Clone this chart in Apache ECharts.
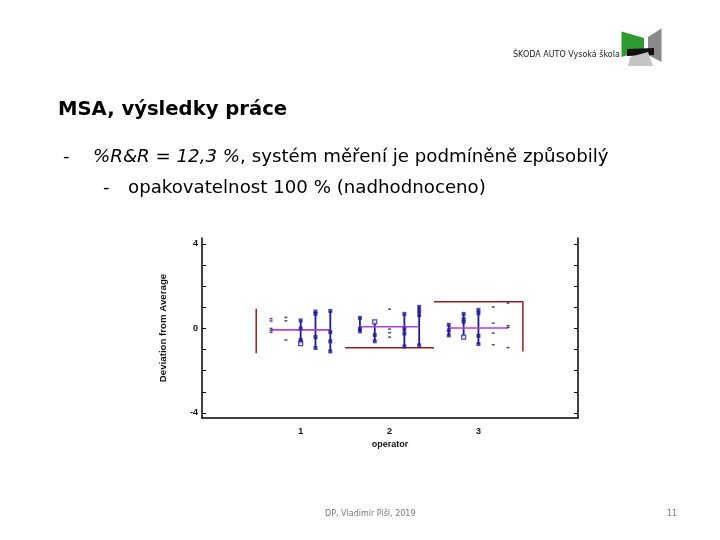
<!DOCTYPE html>
<html>
<head>
<meta charset="utf-8">
<script src="https://cdn.jsdelivr.net/npm/echarts@6/dist/echarts.min.js"></script>
<style>html,body{margin:0;padding:0;background:#fff}#c{width:720px;height:540px}</style>
</head>
<body>
<div id="c"></div>
<script>
// ---- data ----
const operators = [1, 2, 3];
const xTickLabels = [1, 2, 3];
const yTickValues = [-4, -3, -2, -1, 0, 1, 2, 3, 4];
const yTickLabels = [-4, 0, 4];
const partOffsets = [-2/6, -1/6, 0, 1/6, 2/6];
// deviations from average, per operator, per part
const op1Values = [[0.46, 0.35, 0.00, -0.10, -0.19], [0.52, 0.36, -0.55], [0.38, 0.00, -0.54, -0.65, -0.72], [0.80, 0.69, -0.41, -0.93], [0.83, -0.17, -0.61, -1.09]];
const op2Values = [[0.50, -0.02, -0.14], [0.31, -0.31, -0.61], [0.91, -0.03, -0.20, -0.41], [0.69, -0.02, -0.24, -0.85], [1.02, 0.82, 0.63, -0.80]];
const op3Values = [[0.17, -0.09, -0.33], [0.69, 0.44, 0.31, -0.41], [0.88, 0.72, -0.35, -0.74], [1.01, 0.25, -0.22, -0.77], [1.20, 0.13, 0.05, -0.91]];
// which parts (1-based) are drawn joined with a range line
const op1Joined = [3, 4, 5];
const op2Joined = [1, 2, 4, 5];
const op3Joined = [1, 2, 3];
// hollow markers: [operator, part, index]
const hollowMarks = [[1, 3, 4], [2, 2, 0], [3, 2, 3]];
const operatorMeans = [-0.07, 0.08, 0.02];
// limit segments (data space)
const limitLines = [
  [[0.5, 0.93], [0.5, -1.17]],
  [[1.5, -0.91], [2.5, -0.91]],
  [[2.5, 1.26], [3.5, 1.26], [3.5, -1.09]]
];

const allValues = [op1Values, op2Values, op3Values];
const allJoined = [op1Joined, op2Joined, op3Joined];

const NAVY = '#1c1c94';
const rangeData = [], squareData = [], hollowData = [], dashData = [];
operators.forEach((op, i) => {
  allValues[i].forEach((vals, k) => {
    const x = op + partOffsets[k];
    const joined = allJoined[i].includes(k + 1);
    if (joined) {
      rangeData.push([x, Math.min(...vals), Math.max(...vals)]);
      vals.forEach((v, j) => {
        const hollow = hollowMarks.some(h => h[0] === op && h[1] === k + 1 && h[2] === j);
        (hollow ? hollowData : squareData).push([x, v]);
      });
    } else {
      vals.forEach(v => dashData.push([x, v]));
    }
  });
});

const series = [];
limitLines.forEach(seg => {
  series.push({ type: 'line', data: seg, symbol: 'none', silent: true,
    lineStyle: { color: '#9a1c1c', width: 1.5 }, z: 2 });
});
operators.forEach((op, i) => {
  series.push({ type: 'line', data: [[op + partOffsets[0], operatorMeans[i]], [op + partOffsets[4], operatorMeans[i]]],
    symbol: 'none', silent: true, lineStyle: { color: '#b43ed8', width: 1.6 }, z: 4 });
});
series.push({
  type: 'custom', data: rangeData, z: 3,
  renderItem: function (params, api) {
    const p1 = api.coord([api.value(0), api.value(1)]);
    const p2 = api.coord([api.value(0), api.value(2)]);
    return { type: 'line', shape: { x1: p1[0], y1: p1[1], x2: p2[0], y2: p2[1] },
      style: { stroke: NAVY, lineWidth: 1.8 } };
  }
});
series.push({ type: 'scatter', data: squareData, symbol: 'rect', symbolSize: 4, z: 5,
  itemStyle: { color: NAVY } });
series.push({ type: 'scatter', data: hollowData, symbol: 'rect', symbolSize: 4, z: 5,
  itemStyle: { color: '#fff', borderColor: NAVY, borderWidth: 1.2 } });
series.push({ type: 'scatter', data: dashData, symbol: 'rect', symbolSize: [3, 1.5], z: 5,
  itemStyle: { color: '#1e1e60' } });

const axisFont = { fontFamily: 'Liberation Sans', fontWeight: 'bold', fontSize: 9, color: '#111' };
const nameFont = { fontFamily: 'Liberation Sans', fontWeight: 'bold', fontSize: 9.7, color: '#111' };

const chart = echarts.init(document.getElementById('c'));
chart.setOption({
  backgroundColor: '#fff',
  animation: false,
  grid: { left: 202, right: 142, top: 238, bottom: 122 },
  xAxis: {
    type: 'value', min: -0.11, max: 4.12,
    name: 'operator', nameLocation: 'middle', nameGap: 22,
    nameTextStyle: axisFont,
    axisLine: { show: true, onZero: false, lineStyle: { color: '#000', width: 1.5 } },
    axisTick: { show: false },
    splitLine: { show: false },
    axisLabel: Object.assign({ customValues: xTickLabels, margin: 9 }, axisFont)
  },
  yAxis: [{
    type: 'value', min: -4.24, max: 4.28, position: 'left',
    name: 'Deviation from Average', nameLocation: 'middle', nameRotate: 90, nameGap: 34,
    nameTextStyle: nameFont,
    axisLine: { show: true, onZero: false, lineStyle: { color: '#000', width: 1.5 } },
    axisTick: { show: true, inside: true, length: 4, customValues: yTickValues, lineStyle: { color: '#000' } },
    splitLine: { show: false },
    axisLabel: Object.assign({ customValues: yTickLabels, margin: 4 }, axisFont)
  }, {
    type: 'value', min: -4.24, max: 4.28, position: 'right',
    axisLine: { show: true, onZero: false, lineStyle: { color: '#000', width: 1.5 } },
    axisTick: { show: true, inside: true, length: 4, customValues: yTickValues, lineStyle: { color: '#000' } },
    splitLine: { show: false },
    axisLabel: { show: false }
  }],
  series: series,
  graphic: [
    { type: 'text', left: 58, top: 100, style: { text: 'MSA, výsledky práce', font: 'bold 19.6px "DejaVu Sans"', fill: '#000' } },
    { type: 'text', left: 63, top: 148, style: { text: '-', font: '18px "DejaVu Sans"', fill: '#000' } },
    { type: 'text', left: 93, top: 148, style: {
      text: '{i|%R&R = 12,3 %}{n|, systém měření je podmíněně způsobilý}',
      rich: { i: { font: 'italic 18.2px "DejaVu Sans"', fill: '#000' }, n: { font: '18.2px "DejaVu Sans"', fill: '#000' } } } },
    { type: 'text', left: 103, top: 179, style: { text: '-', font: '18px "DejaVu Sans"', fill: '#000' } },
    { type: 'text', left: 128, top: 179, style: { text: 'opakovatelnost 100 % (nadhodnoceno)', font: '18.2px "DejaVu Sans"', fill: '#000' } },
    { type: 'text', left: 325, top: 510, style: { text: 'DP, Vladimír Pišl, 2019', font: '8px "DejaVu Sans"', fill: '#777' } },
    { type: 'text', left: 667, top: 510, style: { text: '11', font: '8px "DejaVu Sans"', fill: '#777' } },
    { type: 'text', left: 513, top: 51, style: { text: 'ŠKODA AUTO Vysoká škola', font: '8px "DejaVu Sans"', fill: '#222' } },
    { type: 'polygon', shape: { points: [[621.5, 31.5], [644, 38], [644, 50], [621.5, 57]] }, style: { fill: '#2f9a2f' } },
    { type: 'polygon', shape: { points: [[648, 37], [661.5, 28.5], [661.5, 62], [648, 55]] }, style: { fill: '#8a8a8a' } },
    { type: 'polygon', shape: { points: [[627, 49], [654, 48], [654, 55], [627, 56]] }, style: { fill: '#111' } },
    { type: 'polygon', shape: { points: [[630, 57], [648, 52], [653, 66], [628, 66]] }, style: { fill: '#c4c4c4' } }
  ]
});
</script>
</body>
</html>
